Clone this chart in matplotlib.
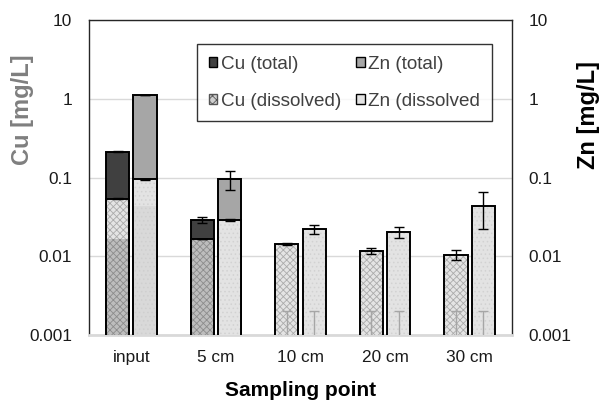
import numpy as np
import matplotlib
matplotlib.use("Agg")
import matplotlib.pyplot as plt
from matplotlib.patches import Patch

plt.rcParams['font.family'] = ['Liberation Sans', 'DejaVu Sans']
plt.rcParams['hatch.linewidth'] = 0.6

categories = ["input", "5 cm", "10 cm", "20 cm", "30 cm"]
cu_total = [0.213, 0.0289, np.nan, np.nan, np.nan]
cu_total_err = [0.001, 0.0026, np.nan, np.nan, np.nan]
zn_total = [1.12, 0.095, np.nan, np.nan, np.nan]
zn_total_err = [0.005, 0.026, np.nan, np.nan, np.nan]
cu_diss = [0.054, 0.0166, 0.0142, 0.0118, 0.0104]
cu_diss_err = [0.001, 0.0002, 0.0004, 0.001, 0.0015]
zn_diss = [0.095, 0.0289, 0.0222, 0.0202, 0.044]
zn_diss_err = [0.001, 0.0008, 0.003, 0.003, 0.022]
cu_inner = [0.0166, 0.0166, np.nan, np.nan, np.nan]
zn_inner = [0.043, np.nan, np.nan, np.nan, np.nan]
blank_val = [np.nan, np.nan, 0.001, 0.001, 0.001]
blank_err = [np.nan, np.nan, 0.001, 0.001, 0.001]
yticks = [0.001, 0.01, 0.1, 1, 10]
yticklabels = ["0.001", "0.01", "0.1", "1", "10"]

W, H = 599, 408
fig = plt.figure(figsize=(W/100, H/100), dpi=100)
L, R, T, B = 89, 512, 20, 335
ax = fig.add_axes([L/W, 1-B/H, (R-L)/W, (B-T)/H])
ax.set_yscale('log')
ax.set_ylim(0.001, 10)
ax.set_xlim(-0.5, 4.5)

x = np.arange(len(categories))
bw = 0.276
off = 0.162
xc = x - off
xz = x + off
bottom = 0.0005

ekw = dict(fmt='none', ecolor='black', elinewidth=1.0, capsize=3.5, capthick=1.0, zorder=6)

# total bars (back)
ax.bar(xc, np.array(cu_total)-bottom, bw, bottom=bottom, color='#404040', edgecolor='black', linewidth=1.4, zorder=2)
ax.bar(xz, np.array(zn_total)-bottom, bw, bottom=bottom, color='#a6a6a6', edgecolor='black', linewidth=1.4, zorder=2)
ax.errorbar(xc, cu_total, yerr=cu_total_err, **ekw)
ax.errorbar(xz, zn_total, yerr=zn_total_err, **ekw)

# dissolved fills
ax.bar(xc, np.array(cu_diss)-bottom, bw, bottom=bottom, color='#e4e4e4', edgecolor='#ababab', hatch='xxxxx', linewidth=0, zorder=3)
ax.bar(xz, np.array(zn_diss)-bottom, bw, bottom=bottom, color='#e3e3e3', edgecolor='#d2d2d2', hatch='....', linewidth=0, zorder=3)
# inner layers
ax.bar(xc, np.array(cu_inner)-bottom, bw, bottom=bottom, color='#bdbdbd', edgecolor='#8c8c8c', hatch='xxxxx', linewidth=0, zorder=3.5)
ax.bar(xz, np.array(zn_inner)-bottom, bw, bottom=bottom, color='#d9d9d9', edgecolor='#cfcfcf', hatch='....', linewidth=0, zorder=3.5)
# dissolved outlines
ax.bar(xc, np.array(cu_diss)-bottom, bw, bottom=bottom, fill=False, edgecolor='black', linewidth=1.4, zorder=4)
ax.bar(xz, np.array(zn_diss)-bottom, bw, bottom=bottom, fill=False, edgecolor='black', linewidth=1.4, zorder=4)
ax.errorbar(xc, cu_diss, yerr=cu_diss_err, **ekw)
ax.errorbar(xz, zn_diss, yerr=zn_diss_err, **ekw)

# faint blank error bars
bkw = dict(fmt='none', ecolor='#a6a6a6', elinewidth=1.0, capsize=3.5, capthick=1.0, zorder=5)
ax.errorbar(xc, blank_val, yerr=blank_err, **bkw)
ax.errorbar(xz, blank_val, yerr=blank_err, **bkw)

# grid & spines
ax.set_yticks(yticks)
ax.set_yticklabels(yticklabels)
ax.yaxis.set_minor_locator(matplotlib.ticker.NullLocator())
ax.grid(axis='y', which='major', color='#d9d9d9', linewidth=1.0, zorder=0)
ax.set_axisbelow(True)
for s in ['left', 'top', 'right']:
    ax.spines[s].set_color('#262626')
    ax.spines[s].set_linewidth(1.0)
ax.spines['bottom'].set_color('#d9d9d9')
ax.spines['bottom'].set_linewidth(2.0)
ax.set_xticks(x)
ax.set_xticklabels(categories)
ax.tick_params(axis='x', length=0, pad=11, labelsize=12.4, colors='#1a1a1a')
ax.tick_params(axis='y', length=0, pad=12, labelsize=12.4, colors='#1a1a1a')

ax2 = ax.twinx()
ax2.set_yscale('log')
ax2.set_ylim(0.001, 10)
ax2.set_yticks(yticks)
ax2.set_yticklabels(yticklabels)
ax2.yaxis.set_minor_locator(matplotlib.ticker.NullLocator())
ax2.tick_params(axis='y', length=0, pad=12, labelsize=12.4, colors='#1a1a1a')
for s in ax2.spines.values():
    s.set_visible(False)

# legend
handles = [
    Patch(facecolor='#404040', edgecolor='black', linewidth=1.0),
    Patch(facecolor='#d0d0d0', edgecolor='#555555', hatch='xxxx', linewidth=1.0),
    Patch(facecolor='#a6a6a6', edgecolor='black', linewidth=1.0),
    Patch(facecolor='#e3e3e3', edgecolor='black', linewidth=1.0),
]
labels = ["Cu (total)", "Cu (dissolved)", "Zn (total)", "Zn (dissolved"]
lx0, lx1, ly0, ly1 = 197, 492, 44, 119
leg = ax.legend(handles, labels, ncol=2, loc='upper left',
                bbox_to_anchor=((lx0-L)/(R-L), 1-(ly1-T)/(B-T), (lx1-lx0)/(R-L), (ly1-ly0)/(B-T)),
                mode='expand', fontsize=13.6, frameon=True, fancybox=False,
                edgecolor='black', handlelength=0.45, handleheight=0.45, handletextpad=0.2,
                labelspacing=1.05, columnspacing=1.0, borderpad=0.62, borderaxespad=0)
leg.get_frame().set_linewidth(1.0)
leg.set_zorder(10)
for t in leg.get_texts():
    t.set_color('#404040')

fig.text(22/W, 1-110/H, "Cu [mg/L]", rotation=90, ha='center', va='center',
         fontsize=17, fontweight='bold', color='#7f7f7f')
fig.text(589/W, 1-115/H, "Zn [mg/L]", rotation=90, ha='center', va='center',
         fontsize=17, fontweight='bold', color='black')
fig.text((L+R)/2/W, 1-390/H, "Sampling point", ha='center', va='center',
         fontsize=15, fontweight='bold', color='black')

fig.savefig("out.png", dpi=100)
